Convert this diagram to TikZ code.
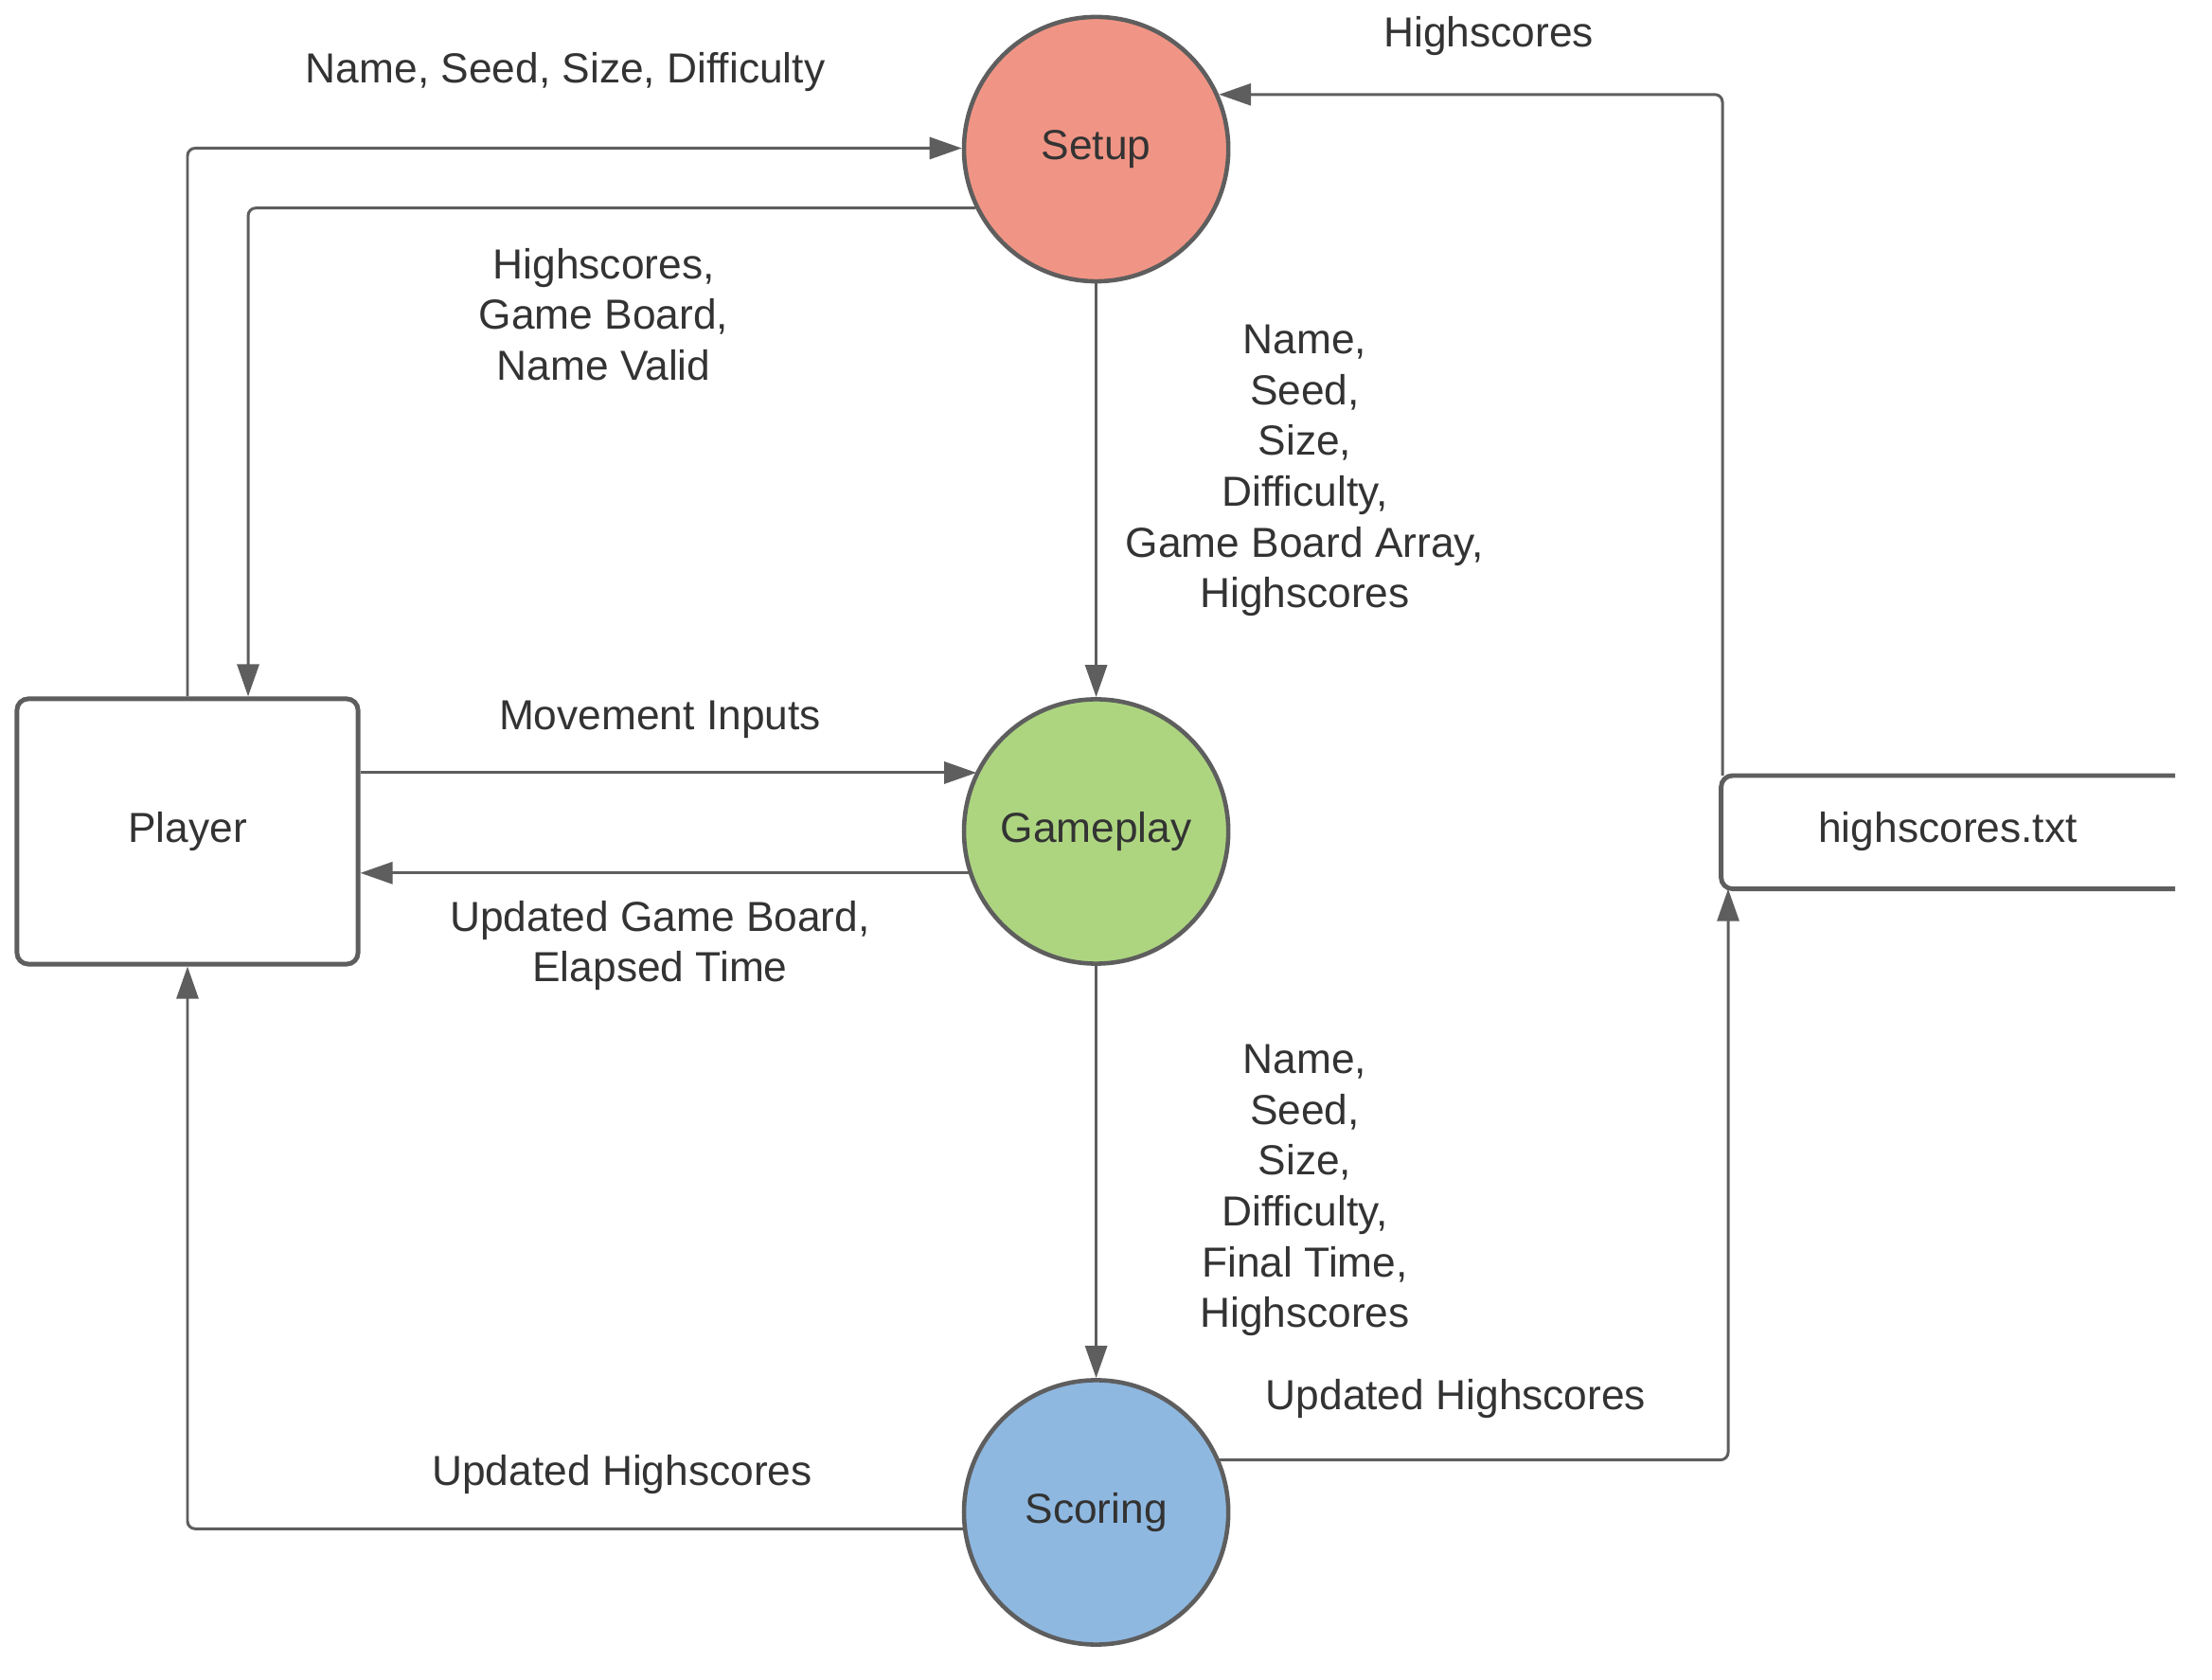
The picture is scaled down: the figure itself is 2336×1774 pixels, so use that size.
\documentclass[tikz,border=0pt]{standalone}
\usepackage{fontspec}
\setmainfont{Liberation Sans}
\usetikzlibrary{arrows.meta}
\definecolor{ln}{HTML}{5E5E5E}
\definecolor{tx}{HTML}{333333}
\definecolor{setupc}{HTML}{F09585}
\definecolor{gamec}{HTML}{ADD580}
\definecolor{scorec}{HTML}{8EB8E0}
\tikzset{
  proc/.style={circle, draw=ln, line width=1.3pt, minimum size=2.79cm, inner sep=0pt, text=tx, font=\fontsize{12.6}{15}\selectfont},
  ent/.style={rectangle, draw=ln, line width=1.4pt, rounded corners=0.12cm, minimum width=3.6cm, minimum height=2.8cm, text=tx, font=\fontsize{12.6}{15}\selectfont},
  conn/.style={draw=ln, line width=0.85pt, rounded corners=0.08cm, -{Triangle[length=0.34cm,width=0.23cm]}},
  lbl/.style={text=tx, align=center, font=\fontsize{12.6}{15.25}\selectfont, inner sep=0pt, yshift=-0.05cm}
}
\begin{document}
\begin{tikzpicture}[x=0.01cm,y=-0.01cm]
\useasboundingbox (0,0) rectangle (2336,1774);
\node[proc, fill=setupc] (setup) at (1157.6,157.5) {Setup};
\node[proc, fill=gamec] (game) at (1157.6,878) {Gameplay};
\node[proc, fill=scorec] (score) at (1157.6,1597) {Scoring};
\node[ent] (player) at (198,878) {Player};
\node[text=tx, font=\fontsize{12.6}{15}\selectfont] (hs) at (2057,878) {highscores.txt};
\draw[ln, line width=1.4pt, rounded corners=0.12cm] (2297,819) -- (1817.6,819) -- (1817.6,938.6) -- (2297,938.6);
\coordinate (hsT) at (1819,819);
\coordinate (hsB) at (1825,938.6);
\coordinate (pE1) at ([yshift=0.62cm]player.east);
\coordinate (pE2) at ([yshift=-0.455cm]player.east);
% connectors
\draw[conn] (player.north) |- ([yshift=0.01cm]setup.west);
\draw[conn] (setup.206.4) -| ([xshift=0.64cm]player.north);
\draw[conn] (setup.south) -- (game.north);
\draw[conn] (pE1) -- (game.153.3 |- pE1);
\draw[conn] (game.198.5) -- (pE2 |- game.198.5);
\draw[conn] (game.south) -- (score.north);
\draw[conn] (score.187) -| (player.south);
\draw[conn] (score.23.7) -| (hsB);
\draw[conn] (hsT) |- (setup.24.8);
% labels
\node[lbl] (l1) at (597,71.5) {Name, Seed, Size, Difficulty};
\node[lbl] (l2) at (1572,33) {Highscores};
\node[lbl] (l3) at (637.6,327) {Highscores,\\Game Board,\\Name Valid};
\node[lbl] (l4) at (1378,492) {Name,\\Seed,\\Size,\\Difficulty,\\Game Board Array,\\Highscores};
\node[lbl] (l5) at (697,755) {Movement Inputs};
\node[lbl] (l6) at (697,993.5) {Updated Game Board,\\Elapsed Time};
\node[lbl] (l7) at (1378,1252) {Name,\\Seed,\\Size,\\Difficulty,\\Final Time,\\Highscores};
\node[lbl] (l8) at (657,1552) {Updated Highscores};
\node[lbl] (l9) at (1537.5,1472) {Updated Highscores};
\end{tikzpicture}
\end{document}
